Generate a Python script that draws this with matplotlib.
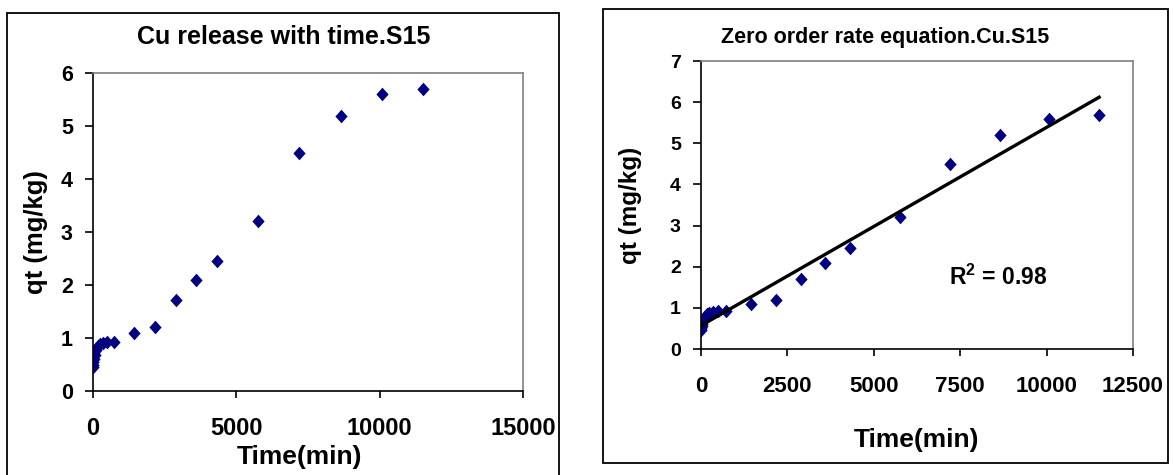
import matplotlib
matplotlib.use("Agg")
import matplotlib.pyplot as plt
from matplotlib.patches import Rectangle
import numpy as np

plt.rcParams['font.family'] = ['Liberation Sans', 'DejaVu Sans']
plt.rcParams['font.weight'] = 'bold'
plt.rcParams['mathtext.fontset'] = 'custom'
plt.rcParams['mathtext.rm'] = 'Liberation Sans:bold'
plt.rcParams['mathtext.bf'] = 'Liberation Sans:bold'

# data
time_min = [5, 10, 15, 30, 60, 120, 180, 240, 360, 480, 720,
            1440, 2160, 2880, 3600, 4320, 5760, 7200, 8640, 10080, 11520]
qt = [0.46, 0.50, 0.55, 0.60, 0.68, 0.78, 0.84, 0.88, 0.91, 0.92, 0.92,
      1.10, 1.20, 1.71, 2.09, 2.46, 3.20, 4.49, 5.19, 5.60, 5.69]

left_title = "Cu release with time.S15"
right_title = "Zero order rate equation.Cu.S15"
xlabel = "Time(min)"
ylabel = "qt (mg/kg)"
left_xticks = [0, 5000, 10000, 15000]
left_yticks = [0, 1, 2, 3, 4, 5, 6]
right_xticks = [0, 2500, 5000, 7500, 10000, 12500]
right_yticks = [0, 1, 2, 3, 4, 5, 6, 7]

navy = '#000080'
diamond = [(0, 1), (0.9, 0), (0, -1), (-0.9, 0), (0, 1)]

W, H = 1173, 475
fig = plt.figure(figsize=(W / 100, H / 100), dpi=100)


def px_axes(x0, y0, x1, y1):
    return fig.add_axes([x0 / W, 1 - y1 / H, (x1 - x0) / W, (y1 - y0) / H])


def frame(x0, y0, x1, y1):
    fig.patches.append(Rectangle((x0 / W, 1 - y1 / H), (x1 - x0) / W, (y1 - y0) / H,
                                 transform=fig.transFigure, fill=False,
                                 edgecolor='black', linewidth=1.3, clip_on=False))


def style(ax, xfs, yfs, xpad):
    for s in ['top', 'right']:
        ax.spines[s].set_color('#808080')
        ax.spines[s].set_linewidth(1.2)
    for s in ['left', 'bottom']:
        ax.spines[s].set_color('black')
        ax.spines[s].set_linewidth(1.2)
    ax.tick_params(axis='y', direction='out', length=5.5, width=1.2, pad=9, labelsize=yfs)
    ax.tick_params(axis='x', direction='out', length=5, width=1.2, pad=xpad, labelsize=xfs)
    for lab in ax.get_xticklabels() + ax.get_yticklabels():
        lab.set_fontweight('bold')


# frames around each chart
frame(7, 13, 559, 500)
frame(603, 9, 1168, 463)

# left chart
ax1 = px_axes(93, 73, 523, 391)
ax1.plot(time_min, qt, linestyle='none', marker=diamond, markersize=9.8,
         color=navy, markeredgewidth=0)
ax1.set_xlim(0, 15000)
ax1.set_ylim(0, 6)
ax1.set_xticks(left_xticks)
ax1.set_yticks(left_yticks)
style(ax1, 17, 15.5, 14)
ax1.set_xlabel(xlabel, fontsize=19, fontweight='bold', labelpad=3)
ax1.xaxis.label.set_x(0.48)
ax1.set_ylabel(ylabel, fontsize=18.5, fontweight='bold', labelpad=9)
fig.text(284 / W, 1 - 37 / H, left_title, ha='center', va='center',
         fontsize=18, fontweight='bold')

# right chart with linear trendline
ax2 = px_axes(701, 61, 1133, 349)
ax2.plot(time_min, qt, linestyle='none', marker=diamond, markersize=9.8,
         color=navy, markeredgewidth=0)
slope, icpt = np.polyfit(time_min, qt, 1)
fit_x = np.array([0, max(time_min)])
ax2.plot(fit_x, slope * fit_x + icpt, color='black', linewidth=2.4)
pred = slope * np.array(time_min) + icpt
r2 = 1 - np.sum((np.array(qt) - pred) ** 2) / np.sum((np.array(qt) - np.mean(qt)) ** 2)
ax2.set_xlim(0, 12500)
ax2.set_ylim(0, 7)
ax2.set_xticks(right_xticks)
ax2.set_yticks(right_yticks)
style(ax2, 16, 14, 14.5)
ax2.set_xlabel(xlabel, fontsize=19, fontweight='bold', labelpad=22)
ax2.set_ylabel(ylabel, fontsize=17.5, fontweight='bold', labelpad=20)
ax2.text(0.575, 0.25, 'R$^{\\mathbf{2}}$ = %.2f' % r2, transform=ax2.transAxes,
         fontsize=16.5, fontweight='bold', ha='left', va='center')
fig.text(885 / W, 1 - 38 / H, right_title, ha='center', va='center',
         fontsize=15.5, fontweight='bold')

fig.savefig('out.png', dpi=100, facecolor='white')
